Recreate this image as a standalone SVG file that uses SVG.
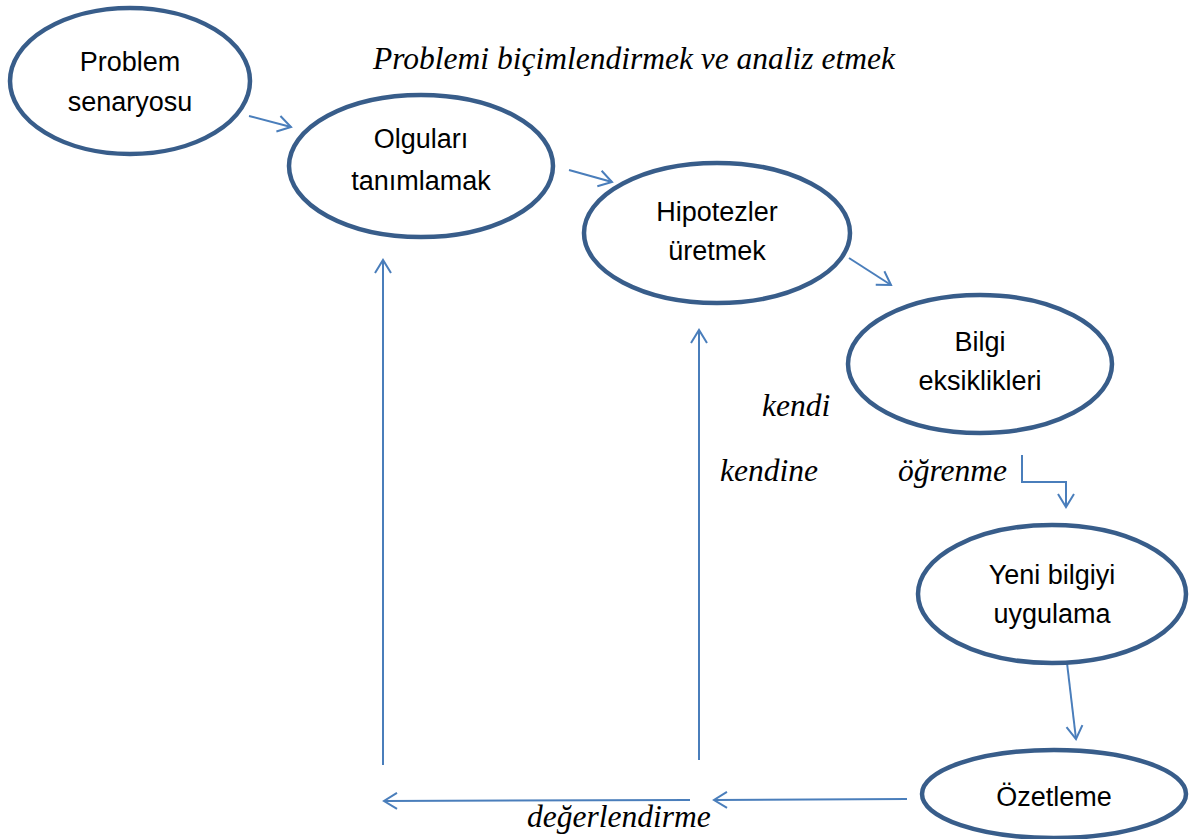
<svg xmlns="http://www.w3.org/2000/svg" width="1191" height="839" viewBox="0 0 1191 839">
<defs>
<style>
.node{fill:#fff;stroke:#385D8A;stroke-width:4.5}
.nt{font-family:"Liberation Sans",Arial,sans-serif;font-size:27px;fill:#000;text-anchor:middle}
.it{font-family:"Liberation Serif","Times New Roman",serif;font-style:italic;font-size:31.5px;fill:#000}
.c{fill:none;stroke:#4A7EBB;stroke-width:2}
</style>
<marker id="ah" markerUnits="userSpaceOnUse" markerWidth="30" markerHeight="30" refX="14" refY="9" orient="auto" viewBox="0 0 30 18">
<path d="M1,1 L14,9 L1,17" fill="none" stroke="#4A7EBB" stroke-width="2"/>
</marker>
</defs>
<rect width="1191" height="839" fill="#fff"/>
<g id="connectors">
<line class="c" x1="249" y1="116" x2="291" y2="127" marker-end="url(#ah)"/>
<line class="c" x1="569" y1="170" x2="612" y2="182" marker-end="url(#ah)"/>
<line class="c" x1="849" y1="258" x2="891" y2="285" marker-end="url(#ah)"/>
<polyline class="c" points="1022,455 1022,482 1066,482 1066,507" marker-end="url(#ah)"/>
<line class="c" x1="1067" y1="663" x2="1076" y2="739" marker-end="url(#ah)"/>
<line class="c" x1="907" y1="799" x2="714" y2="800" marker-end="url(#ah)"/>
<line class="c" x1="690" y1="800" x2="384" y2="801" marker-end="url(#ah)"/>
<line class="c" x1="383" y1="765" x2="383" y2="260" marker-end="url(#ah)"/>
<line class="c" x1="699" y1="760" x2="699" y2="330" marker-end="url(#ah)"/>
</g>
<g id="node-problem">
<ellipse class="node" cx="130" cy="81" rx="120" ry="73"/>
<text class="nt" x="130" y="71">Problem</text>
<text class="nt" x="130" y="111">senaryosu</text>
</g>
<g id="node-olgular">
<ellipse class="node" cx="421" cy="166" rx="132" ry="71"/>
<text class="nt" x="421" y="148">Olguları</text>
<text class="nt" x="421" y="190">tanımlamak</text>
</g>
<g id="node-hipotez">
<ellipse class="node" cx="717" cy="233" rx="133" ry="70"/>
<text class="nt" x="717" y="221">Hipotezler</text>
<text class="nt" x="717" y="260">üretmek</text>
</g>
<g id="node-bilgi">
<ellipse class="node" cx="980" cy="364" rx="132" ry="69"/>
<text class="nt" x="980" y="351">Bilgi</text>
<text class="nt" x="980" y="390">eksiklikleri</text>
</g>
<g id="node-yeni">
<ellipse class="node" cx="1052" cy="594" rx="134" ry="69"/>
<text class="nt" x="1052" y="584">Yeni bilgiyi</text>
<text class="nt" x="1052" y="623">uygulama</text>
</g>
<g id="node-ozet">
<ellipse class="node" cx="1054" cy="794" rx="132" ry="44"/>
<text class="nt" x="1054" y="806">Özetleme</text>
</g>
<g id="labels">
<text class="it" x="373" y="69">Problemi biçimlendirmek ve analiz etmek</text>
<text class="it" x="762" y="416">kendi</text>
<text class="it" x="720" y="481">kendine</text>
<text class="it" x="898" y="481">öğrenme</text>
<text class="it" x="527" y="827">değerlendirme</text>
</g>
</svg>
